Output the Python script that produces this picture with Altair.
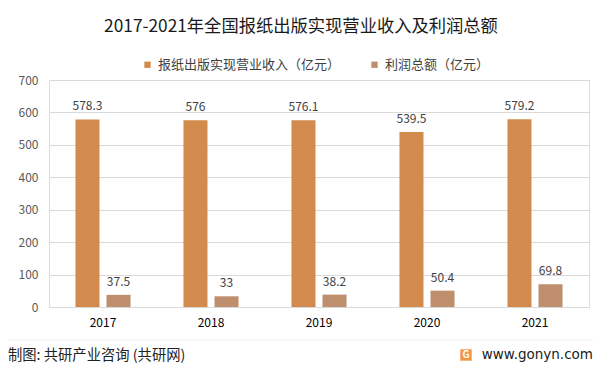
import altair as alt
import pandas as pd

years = ["2017", "2018", "2019", "2020", "2021"]
revenue = [578.3, 576, 576.1, 539.5, 579.2]
profit = [37.5, 33, 38.2, 50.4, 69.8]
series_names = ["报纸出版实现营业收入（亿元）", "利润总额（亿元）"]
colors = ["#D38B4D", "#BF8F6D"]
title_text = "2017-2021年全国报纸出版实现营业收入及利润总额"
footer_text = "制图: 共研产业咨询 (共研网)"
url_text = "www.gonyn.com"

rows = []
for i, y in enumerate(years):
    rows.append({"year": y, "series": series_names[0], "value": revenue[i], "label": f"{revenue[i]:g}"})
    rows.append({"year": y, "series": series_names[1], "value": profit[i], "label": f"{profit[i]:g}"})
df = pd.DataFrame(rows)

FONT = "Noto Sans CJK SC"

base = alt.Chart(df).encode(
    x=alt.X("year:N", sort=years,
            scale=alt.Scale(paddingInner=0.49, paddingOuter=0.245),
            axis=alt.Axis(title=None, labelAngle=0, ticks=False, domainColor="#d9d9d9",
                          labelPadding=10, labelFontSize=12, labelColor="#000000")),
    xOffset=alt.XOffset("series:N", sort=series_names,
                        scale=alt.Scale(domain=series_names, paddingInner=7 / 31, paddingOuter=0)),
    y=alt.Y("value:Q", scale=alt.Scale(domain=[0, 700]),
            axis=alt.Axis(title=None, values=list(range(0, 701, 100)), domain=False, ticks=False,
                          gridColor="#d9d9d9", labelPadding=11, labelFontSize=12,
                          labelColor="#595959")),
)

bars = base.mark_bar().encode(
    color=alt.Color("series:N", sort=series_names,
                    scale=alt.Scale(domain=series_names, range=colors),
                    legend=alt.Legend(title=None, orient="none", legendX=92, legendY=-22,
                                      direction="horizontal", symbolType="square",
                                      symbolSize=40, symbolStrokeWidth=0, labelFontSize=13,
                                      labelColor="#404040", labelOffset=4, columnPadding=27,
                                      padding=0, labelLimit=400))
)

labels = base.mark_text(dy=-9, baseline="alphabetic", fontSize=12, color="#404040").encode(
    text="label:N"
)

title = alt.Chart(pd.DataFrame({"t": [title_text]})).mark_text(
    fontSize=17.3, color="#1a1a1a", align="center", baseline="middle"
).encode(x=alt.value(252), y=alt.value(-53), text="t:N")

footer = alt.Chart(pd.DataFrame({"t": [footer_text]})).mark_text(
    fontSize=14.3, color="#222222", align="left", baseline="middle"
).encode(x=alt.value(-41), y=alt.value(276), text="t:N")

url = alt.Chart(pd.DataFrame({"t": [url_text]})).mark_text(
    fontSize=13.5, color="#222222", align="right", baseline="middle", font="DejaVu Sans"
).encode(x=alt.value(544), y=alt.value(275), text="t:N")

sep = alt.Chart(pd.DataFrame({"a": [0]})).mark_rule(color="#eeeeee", strokeWidth=1).encode(
    x=alt.value(-44), x2=alt.value(544), y=alt.value(260)
)

logo = alt.Chart(pd.DataFrame({"a": [0]})).mark_point(
    shape="square", filled=True, size=130, color="#F29545", opacity=1
).encode(x=alt.value(417), y=alt.value(275))

logo_g = alt.Chart(pd.DataFrame({"t": ["G"]})).mark_text(
    fontSize=10, fontWeight="bold", color="white", align="center", baseline="middle"
).encode(x=alt.value(417), y=alt.value(275), text="t:N")

chart = alt.layer(bars, labels, title, footer, url, sep, logo, logo_g).properties(
    width=540, height=227,
    autosize=alt.AutoSizeParams(type="none"),
    padding={"left": 41, "top": 72, "right": 4, "bottom": 56},
).configure_view(stroke=None).configure(font=FONT)

chart.save("out.html", embed_options={"renderer": "svg", "actions": False})
